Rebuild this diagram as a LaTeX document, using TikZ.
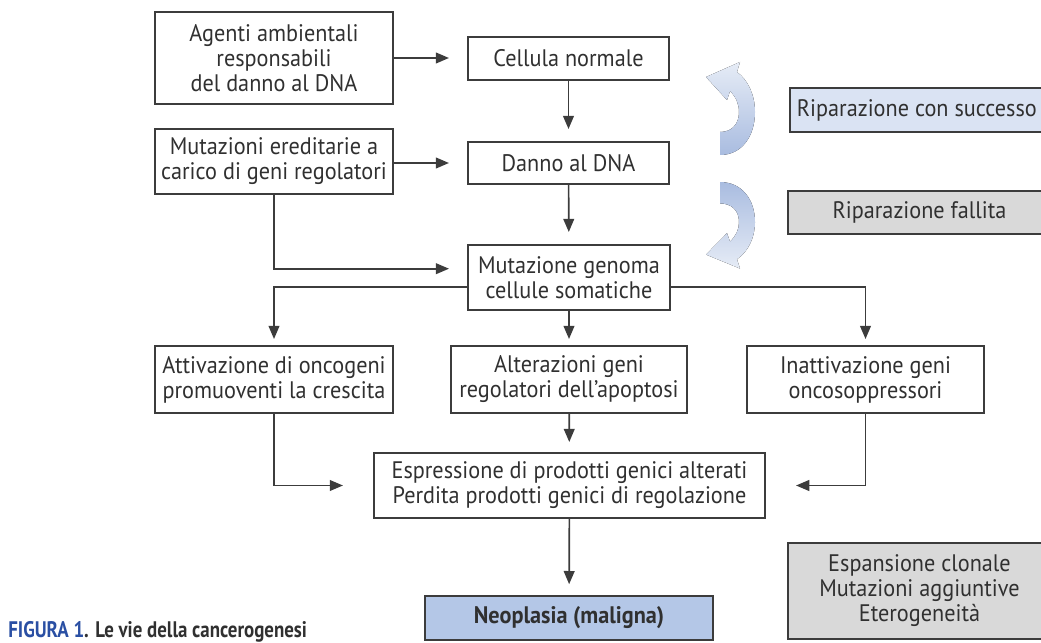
\documentclass[tikz,border=0pt]{standalone}
\usepackage{fontspec}
\setmainfont{PT Sans}[FakeStretch=0.93]
\newfontfamily\capfont{PT Sans}[FakeStretch=0.84]
\usepackage{xcolor}
\usetikzlibrary{arrows.meta}
\definecolor{boxline}{HTML}{3C3C3C}
\definecolor{txt}{HTML}{303030}
\definecolor{lightblue}{HTML}{DAE3F3}
\definecolor{midblue}{HTML}{B4C7E7}
\definecolor{boxgray}{HTML}{D9D9D9}
\definecolor{arrlight}{HTML}{E6ECF6}
\definecolor{arrdark}{HTML}{A9BCE0}
\definecolor{figblue}{HTML}{2A4FA3}

\begin{document}
\begin{tikzpicture}[x=0.025cm,y=-0.025cm,
	box/.style={draw=boxline,line width=1.4pt,text=txt,align=center,inner sep=0pt,
		font=\fontsize{17}{17.8}\selectfont},
	link/.style={draw=boxline,line width=1.2pt,-{Triangle[length=0.33cm,width=0.27cm]}},
	]
	\useasboundingbox (0,0) rectangle (1041,643);
	\clip (0,0) rectangle (1041,643);

	\node[box,minimum width=5.95cm,minimum height=2.3cm] (agenti) at (274,58)
		{Agenti ambientali\\responsabili\\del danno al DNA};
	\node[box,minimum width=5.95cm,minimum height=1.625cm] (ereditarie) at (274,161.5)
		{Mutazioni ereditarie a\\carico di geni regolatori};
	\node[box,minimum width=5.025cm,minimum height=1.075cm] (cellula) at (568.5,58.5) {Cellula normale};
	\node[box,minimum width=5.025cm,minimum height=1.05cm] (danno) at (568.5,163) {Danno al DNA};
	\node[box,minimum width=5.05cm,minimum height=1.625cm] (genoma) at (569,277.5)
		{Mutazione genoma\\cellule somatiche};

	\node[box,minimum width=5.95cm,minimum height=1.675cm] (attivazione) at (274,379.5)
		{Attivazione di oncogeni\\promuoventi la crescita};
	\node[box,minimum width=5.9cm,minimum height=1.675cm] (alterazioni) at (569,379.5)
		{Alterazioni geni\\regolatori dell'apoptosi};
	\node[box,minimum width=5.925cm,minimum height=1.675cm] (inattivazione) at (865.5,379.5)
		{Inattivazione geni\\oncosoppressori};
	\node[box,minimum width=9.775cm,minimum height=1.625cm] (espressione) at (569.5,485.5)
		{Espressione di prodotti genici alterati\\Perdita prodotti genici di regolazione};
	\node[box,fill=midblue,minimum width=7.2cm,minimum height=1.1cm,font=\fontsize{17}{17.8}\selectfont\bfseries] (neoplasia) at (569,618)
		{Neoplasia (maligna)};

	\node[box,fill=lightblue,anchor=west,minimum height=1.1cm,inner xsep=0.175cm] (successo) at (789,110)
		{\makebox[6.2cm][l]{Riparazione con successo}};
	\node[box,fill=boxgray,minimum width=6.55cm,minimum height=1.075cm] (fallita) at (919.5,212.5)
		{Riparazione fallita};
	\node[box,fill=boxgray,minimum width=6.55cm,minimum height=2.4cm] (espansione) at (919.5,591)
		{Espansione clonale\\Mutazioni aggiuntive\\Eterogeneità};

	\node[anchor=base west,inner sep=0pt,text=txt,font=\capfont\bfseries\fontsize{16}{18}\selectfont] (didascalia) at (8,637)
		{\textcolor{figblue}{FIGURA 1}. Le vie della cancerogenesi};

	\draw[link,shorten >=0.45cm] (agenti.east) -- (agenti.east -| cellula.west);
	\draw[link,shorten >=0.45cm] (ereditarie.east |- danno.west) -- (danno.west);
	\draw[link,shorten >=0.3cm] (cellula) -- (danno);
	\draw[link,shorten >=0.3cm] (danno) -- (genoma);
	\draw[link,shorten >=0.45cm] (ereditarie.south) |- ([yshift=0.22cm]genoma.west);
	\draw[link,shorten >=0.15cm] ([yshift=-0.24cm]genoma.west) -| (attivazione.north);
	\draw[link,shorten >=0.15cm] ([yshift=-0.24cm]genoma.east) -| (inattivazione.north);
	\draw[link,shorten >=0.15cm] (genoma) -- (alterazioni);
	\draw[link,shorten >=0.25cm] (alterazioni) -- (espressione);
	\draw[link,shorten >=0.75cm] (attivazione.south) |- (espressione.west);
	\draw[link,shorten >=0.75cm] (inattivazione.south) |- (espressione.east);
	\draw[link,shorten >=0.27cm] (espressione) -- (neoplasia);

	\foreach \dy/\s/\ct/\cb in {0/1/arrlight/arrdark,326.2/-0.93/arrdark/arrlight}
		\fill[top color=\ct,bottom color=\cb,shift={(0,\dy)},yscale=\s]
			(720,155) .. controls (742,155) and (755,136) .. (755,112)
			.. controls (755,95) and (748,80) .. (737,72) -- (740,62) -- (706,77) -- (727,100) -- (730,91)
			.. controls (736,97) and (739,104) .. (739,112)
			.. controls (739,124) and (732,132) .. (720,132) -- cycle;
\end{tikzpicture}
\end{document}
